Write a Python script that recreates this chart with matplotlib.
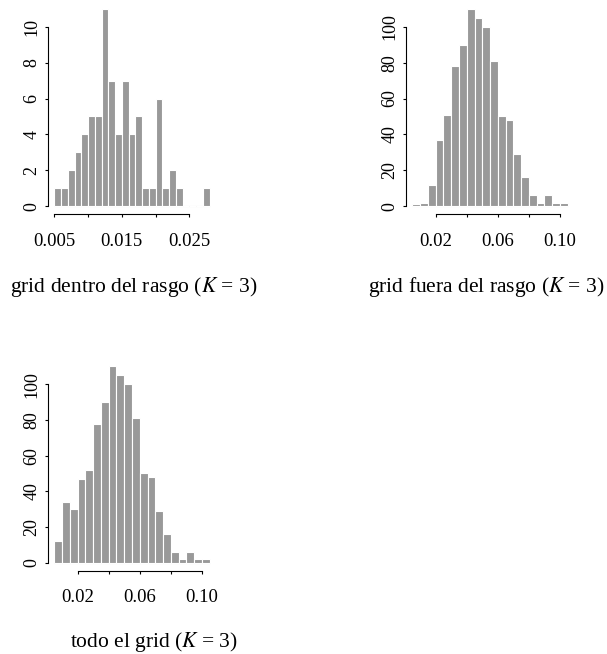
import numpy as np
import matplotlib
matplotlib.use('Agg')
import matplotlib.pyplot as plt

plt.rcParams['font.family'] = ['Liberation Serif', 'DejaVu Serif']
plt.rcParams['mathtext.fontset'] = 'stix'

# conteos por clase (histogramas de K = 3)
dentro_counts = [1, 1, 2, 3, 4, 5, 5, 11, 7, 4, 7, 4, 5, 1, 1, 6, 1, 2, 1, 0, 0, 0, 1]
dentro_start, dentro_width = 0.005, 0.001

fuera_counts = [1, 2, 12, 37, 51, 78, 90, 110, 105, 100, 81, 50, 48, 29, 16, 6, 2, 6, 2, 2]
fuera_start, fuera_width = 0.005, 0.005

todo_counts = [12, 34, 30, 47, 52, 78, 90, 110, 105, 100, 81, 50, 48, 29, 16, 6, 2, 6, 2, 2]
todo_start, todo_width = 0.005, 0.005

dentro_xticks = [0.005, 0.010, 0.015, 0.020, 0.025]
dentro_xlabels = ['0.005', '', '0.015', '', '0.025']
fuera_xticks = [0.02, 0.04, 0.06, 0.08, 0.10]
fuera_xlabels = ['0.02', '', '0.06', '', '0.10']
dentro_yticks = [0, 2, 4, 6, 8, 10]
fuera_yticks = [0, 20, 40, 60, 80, 100]

titles = [r'grid dentro del rasgo ($K$ = 3)',
          r'grid fuera del rasgo ($K$ = 3)',
          r'todo el grid ($K$ = 3)']

W, H = 607, 654
fig = plt.figure(figsize=(W / 100, H / 100), dpi=100)


def px_axes(x0, x1, y0, y1):
    # rectangle given in pixels from the top-left corner
    return fig.add_axes([x0 / W, 1 - y1 / H, (x1 - x0) / W, (y1 - y0) / H])


def hist_panel(ax, counts, start, width, xticks, xlabels, yticks):
    counts = np.asarray(counts)
    edges = start + width * np.arange(len(counts) + 1)
    ax.hlines(0, edges[0], edges[-1], color='#e4e4e4', lw=0.8, zorder=1)
    ax.bar(edges[:-1], counts, width=width, align='edge',
           color='#999999', edgecolor='white', linewidth=0.8, zorder=2)
    xr = edges[-1] - edges[0]
    ax.set_xlim(edges[0] - 0.04 * xr, edges[-1] + 0.04 * xr)
    ymax = counts.max()
    ax.set_ylim(-0.04 * ymax, ymax * 1.04)
    for s in ['top', 'right']:
        ax.spines[s].set_visible(False)
    ax.spines['bottom'].set_bounds(xticks[0], xticks[-1])
    ax.spines['left'].set_bounds(yticks[0], yticks[-1])
    for s in ['bottom', 'left']:
        ax.spines[s].set_linewidth(0.8)
    ax.set_xticks(xticks)
    ax.set_xticklabels(xlabels)
    ax.set_yticks(yticks)
    ax.set_yticklabels([str(v) for v in yticks], rotation=90, va='center')
    ax.tick_params(axis='x', length=2.5, width=0.8, pad=11, labelsize=13.5)
    ax.tick_params(axis='y', length=2.5, width=0.8, pad=3, labelsize=13)
    ax.patch.set_visible(False)


ax1 = px_axes(48, 216, 1, 214)
hist_panel(ax1, dentro_counts, dentro_start, dentro_width,
           dentro_xticks, dentro_xlabels, dentro_yticks)

ax2 = px_axes(406.3, 573.7, 1, 214)
hist_panel(ax2, fuera_counts, fuera_start, fuera_width,
           fuera_xticks, fuera_xlabels, fuera_yticks)

ax3 = px_axes(48, 216, 358.6, 570.5)
hist_panel(ax3, todo_counts, todo_start, todo_width,
           fuera_xticks, fuera_xlabels, fuera_yticks)

for (cx, by), t in zip([(134, 292), (486.5, 292), (154, 646.5)], titles):
    fig.text(cx / W, 1 - by / H, t, ha='center', va='baseline', fontsize=15.5)

fig.savefig('out.png', dpi=100)
